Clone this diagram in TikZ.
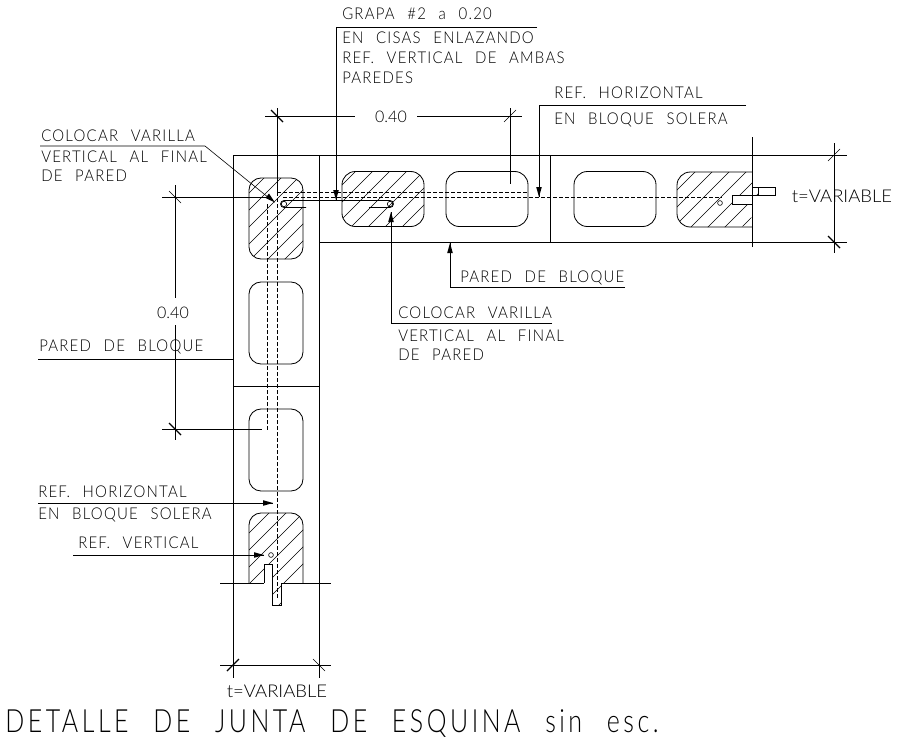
\documentclass[tikz,border=0pt]{standalone}
\usepackage{fontspec}
\setmainfont{Lato Light}
\newfontfamily\cadfont[LetterSpace=7.5,WordSpace=2.4,FakeStretch=0.92]{Lato Light}
\newfontfamily\cadtitle[LetterSpace=11,WordSpace=2.4,FakeStretch=0.78]{Lato Light}
\newfontfamily\varfont[FakeStretch=1.05]{Lato Light}
\newcommand{\hatchclip}[1]{\begin{scope}\clip #1;
 \foreach \c in {408,425,...,1100}{\draw[hatchline] (\c-800,800) -- (\c,0);}
 \end{scope}}
\tikzset{
 x=0.75pt,y=-0.75pt,
 main/.style={line width=0.62pt,black},
 thin line/.style={line width=0.45pt,black},
 thick tick/.style={line width=1pt,black},
 hatchline/.style={line width=0.4pt,black},
 dashline/.style={line width=0.55pt,black,dash pattern=on 3pt off 1.5pt},
 label/.style={anchor=base west,inner sep=0pt,font=\cadfont\fontsize{12.2pt}{14pt}\selectfont},
 dimtext/.style={anchor=base,inner sep=0pt,font=\fontsize{12pt}{14pt}\selectfont},
 vartext/.style={anchor=base,inner sep=0pt,font=\varfont\fontsize{13.2pt}{15pt}\selectfont},
}
\newcommand{\tickup}[3][thin line]{\draw[#1] (#2-6,#3+6) -- (#2+6,#3-6);}
\newcommand{\tickdn}[3][thin line]{\draw[#1] (#2-6,#3-6) -- (#2+6,#3+6);}
\newcommand{\tipd}[2]{\fill[black] (#1,#2) -- (#1-2.8,#2-10) -- (#1+2.8,#2-10) -- cycle;}
\newcommand{\tipu}[2]{\fill[black] (#1,#2) -- (#1-2.8,#2+10) -- (#1+2.8,#2+10) -- cycle;}
\newcommand{\tipr}[2]{\fill[black] (#1,#2) -- (#1-10,#2-2.8) -- (#1-10,#2+2.8) -- cycle;}
\begin{document}
\begin{tikzpicture}
\useasboundingbox (0,0) rectangle (903,740);
% hatching
\hatchclip{[rounded corners=9pt] (249,178) rectangle (303,259)}
\hatchclip{[rounded corners=10pt] (342,171.5) rectangle (424,226.5)}
\hatchclip{[rounded corners=10pt] (752,172) -- (677,172) -- (677,227) -- (752,227) [sharp corners] -- (752,204) -- (732,204) -- (732,195) -- (758,195) -- (758,187) -- (752,187) -- cycle}
\hatchclip{[rounded corners=9pt] (249,583) -- (249,513) -- (303,513) -- (303,583) [sharp corners] -- (281,583) -- (281,605) -- (272,605) -- (272,564) -- (264,564) -- (264,583) -- cycle}
% walls
\draw[main] (233,670) -- (233,155) -- (847,155);
\draw[main] (319,670) -- (319,242) -- (847,242);
\draw[main] (319,155) -- (319,242);
\draw[main] (233,386) -- (319,386);
\draw[main] (550,155) -- (550,242);
\draw[main] (752,137) -- (752,247);
\draw[main] (220,583) -- (264,583);
\draw[main] (281,583) -- (331,583);
% blocks
\draw[main,rounded corners=9pt] (249,178) rectangle (303,259);
\draw[main,rounded corners=10pt] (342,171.5) rectangle (424,226.5);
\draw[main,rounded corners=10pt] (446,171.5) rectangle (528,226.5);
\draw[main,rounded corners=10pt] (574,171.5) rectangle (656,226.5);
\draw[main,rounded corners=10pt] (752,172) -- (677,172) -- (677,227) -- (752,227);
\draw[main,rounded corners=9pt] (249,282) rectangle (303,364);
\draw[main,rounded corners=9pt] (249,409) rectangle (303,491);
\draw[main,rounded corners=9pt] (249,583) -- (249,513) -- (303,513) -- (303,583);
% notches
\draw[main] (752,187) -- (775,187) -- (775,195) -- (732,195) -- (732,204) -- (752,204);
\draw[main] (758,187) -- (758,195);
\draw[main] (264,583) -- (264,564) -- (272,564) -- (272,605) -- (281,605) -- (281,583);
% dashed references
\draw[dashline] (277,192) -- (527,192);
\draw[dashline] (283,197) -- (722,197);
\draw[dashline] (267,204) -- (267,430);
\draw[dashline] (277,192) -- (277,600);
% clip (grapa)
\draw[main] (306,207.5) -- (284,207.5) arc[start angle=270,end angle=90,radius=2.6pt] -- (390,200.5) arc[start angle=90,end angle=-90,radius=2.6pt] -- (369,207.5);
\draw[thin line] (284,204) circle[radius=2pt];
\draw[thin line] (390,204) circle[radius=2pt];
\draw[thin line] (720,203) circle[radius=1.8pt];
\draw[thin line] (271,555) circle[radius=1.8pt];
% horizontal dim 0.40
\coordinate (hd1) at (265,116); \coordinate (hd2) at (522,116);
\draw[main] (277,108) -- (277,192);
\draw[main] (510,108) -- (510,184);
\draw[main] (hd1) -- (355,116);
\draw[main] (417,116) -- (hd2);
\tickdn[thick tick]{277}{116}
\tickup{510}{116}
\node[dimtext] (dimh) at (391,122) {0.40};
% vertical dim 0.40
\draw[main] (175,185) -- (175,298);
\draw[main] (175,325) -- (175,440);
\draw[main] (162,197) -- (270,197);
\draw[main] (162,429) -- (262,429);
\tickdn{175}{197}
\tickdn[thick tick]{175}{429}
\node[dimtext] (dimv) at (173,318) {0.40};
% t=VARIABLE right
\draw[main] (834,143) -- (834,253);
\tickup{834}{155}
\tickdn[thick tick]{834}{242}
\node[vartext] (tvr) at (842,202) {t=VARIABLE};
% t=VARIABLE bottom
\draw[main] (220,665) -- (331,665);
\draw[main] (233,665) -- (233,678);
\draw[main] (319,665) -- (319,678);
\tickup[thick tick]{233}{665}
\tickdn{319}{665}
\node[vartext] (tvb) at (277,697) {t=VARIABLE};
% leaders
\draw[thin line] (40,146) -- (205,146) -- (269,198);
\fill[black] (275,202.5) -- (265.5,198) -- (269,193.5) -- cycle;
\node[label] (a1) at (41,141.5) {COLOCAR VARILLA};
\node[label] (a2) at (41,162.5) {VERTICAL AL FINAL};
\node[label] (a3) at (41,181.5) {DE PARED};
\draw[main] (537,27) -- (336,27) -- (336,200);
\tipd{336}{200}
\node[label] (b1) at (342,19.5) {GRAPA \#2 a 0.20};
\node[label] (b2) at (342,43.5) {EN CISAS ENLAZANDO};
\node[label] (b3) at (342,63.5) {REF. VERTICAL DE AMBAS};
\node[label] (b4) at (342,83.5) {PAREDES};
\draw[main] (746,105) -- (539,105) -- (539,197);
\tipd{539}{197}
\node[label] (c1) at (554,98.5) {REF. HORIZONTAL};
\node[label] (c2) at (554,124.5) {EN BLOQUE SOLERA};
\draw[main] (625,287) -- (450,287) -- (450,243);
\tipu{450}{243}
\node[label] (d1) at (460,282.5) {PARED DE BLOQUE};
\draw[main] (552,323) -- (391,323) -- (391,212);
\tipu{391}{212}
\node[label] (e1) at (398,318.5) {COLOCAR VARILLA};
\node[label] (e2) at (398,341.5) {VERTICAL AL FINAL};
\node[label] (e3) at (398,360.5) {DE PARED};
\draw[main] (38,359) -- (233,359);
\node[label] (f1) at (39,351.5) {PARED DE BLOQUE};
\draw[main] (38,503) -- (273,503);
\tipr{273}{503}
\node[label] (g1) at (38,497.5) {REF. HORIZONTAL};
\node[label] (g2) at (38,519.5) {EN BLOQUE SOLERA};
\draw[main] (73,555) -- (264,555);
\tipr{264}{555}
\node[label] (h1) at (78,548.5) {REF. VERTICAL};
% title
\node[anchor=base west,inner sep=0pt,font=\cadtitle\fontsize{24pt}{26pt}\selectfont] (title) at (5,732) {DETALLE DE JUNTA DE ESQUINA sin esc.};
\end{tikzpicture}
\end{document}
